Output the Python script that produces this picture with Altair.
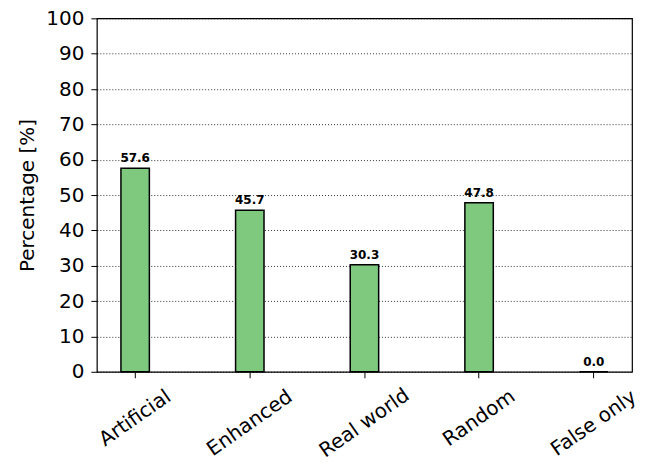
import altair as alt
import pandas as pd

categories = ["Artificial", "Enhanced", "Real world", "Random", "False only"]
values = [57.6, 45.7, 30.3, 47.8, 0.0]

df = pd.DataFrame({"cat": categories, "val": values})

FONT = "DejaVu Sans"

x = alt.X("cat:N", sort=categories, title=None,
          scale=alt.Scale(paddingInner=0.752, paddingOuter=0.21),
          axis=alt.Axis(labelAngle=325, labelAlign="center", labelBaseline="middle",
                        labelFontSize=20, labelFont=FONT, labelColor="black",
                        tickColor="black", tickSize=6, tickWidth=1,
                        domain=False, grid=False, labelOverlap=False,
                        labelPadding={"condition": {"test": "indexof(['Enhanced','Real world','False only'], datum.value) >= 0",
                                                    "value": 45},
                                      "value": 40}))
y = alt.Y("val:Q", title="Percentage [%]",
          scale=alt.Scale(domain=[0, 100], nice=False, zero=True),
          axis=alt.Axis(values=list(range(0, 101, 10)), labelFontSize=20, labelFont=FONT,
                        labelColor="black", tickColor="black", tickSize=6, tickWidth=1,
                        labelOverlap=False, labelBaseline="middle",
                        domain=False, grid=True, gridColor="black", gridDash=[1, 2],
                        gridWidth=0.8, labelPadding=7,
                        titleFontSize=20, titleFont=FONT, titleFontWeight="normal",
                        titleColor="black", titlePadding=8))

bars = alt.Chart(df).mark_bar(color="#7fc97f", stroke="black", strokeWidth=1.5).encode(x=x, y=y)
labels = alt.Chart(df).mark_text(dy=-6, baseline="alphabetic", fontWeight="bold",
                                 fontSize=12, font=FONT, color="black").encode(
    x=x,
    y=y,
    text=alt.Text("val:Q", format=".1f"))

chart = (bars + labels).properties(
    width=536, height=354,
    background="white",
    autosize=alt.AutoSizeParams(type="none"),
    padding={"left": 89, "top": 10, "right": 12, "bottom": 86},
).configure_view(stroke="black", strokeWidth=1.2)

chart.save("out.html", embed_options={"renderer": "svg", "actions": False})
